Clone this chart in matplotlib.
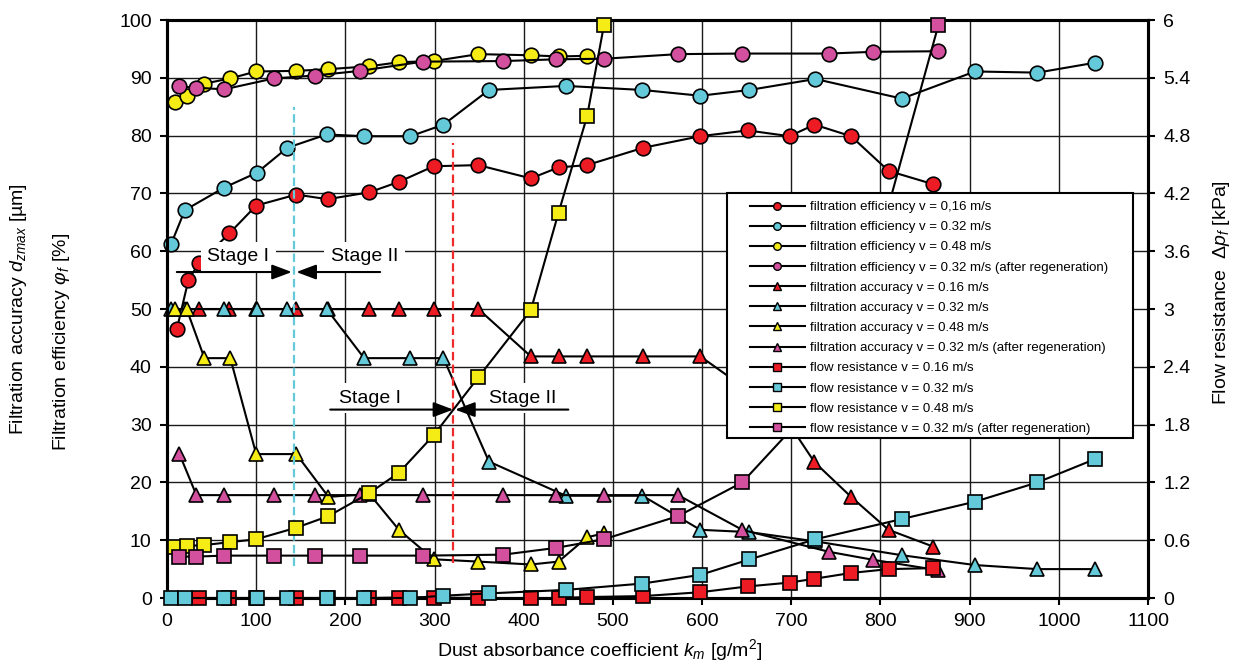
import matplotlib
matplotlib.use("Agg")
import matplotlib.pyplot as plt
from matplotlib.lines import Line2D
from matplotlib.patches import Rectangle

plt.rcParams['font.family'] = ['Liberation Sans', 'DejaVu Sans']
plt.rcParams['mathtext.fontset'] = 'custom'
plt.rcParams['mathtext.rm'] = 'Liberation Sans'
plt.rcParams['mathtext.it'] = 'Liberation Sans:italic'
plt.rcParams['mathtext.bf'] = 'Liberation Sans:bold'

# --- data ---
# filtration efficiency [%]
eff16_x = [11, 24, 36, 70, 100, 145, 180, 227, 260, 299, 349, 408, 439, 471, 534, 598, 651, 698, 726, 767, 809, 859]
eff16_y = [46.5, 55, 58, 63.1, 67.9, 69.8, 69, 70.2, 72, 74.7, 74.9, 72.6, 74.5, 74.9, 77.9, 79.9, 80.9, 79.9, 81.9, 79.9, 73.9, 71.6]

eff32_x = [4.5, 20, 64, 101, 135, 179, 221, 273, 310, 361, 447, 533, 598, 653, 727, 824, 906, 976, 1040]
eff32_y = [61.2, 67.1, 71, 73.6, 77.9, 80.2, 79.9, 79.9, 81.9, 87.9, 88.6, 87.9, 86.9, 87.9, 89.8, 86.4, 91.1, 90.9, 92.6]

eff48_x = [9, 22, 42, 71, 100, 145, 181, 227, 260, 299, 349, 408, 439, 471]
eff48_y = [85.9, 86.8, 89, 89.9, 91.1, 91.2, 91.5, 92, 92.7, 92.9, 94.1, 93.9, 93.7, 93.8]

effreg_x = [14, 33, 64, 120, 166, 216, 287, 377, 436, 490, 573, 645, 742, 792, 865]
effreg_y = [88.5, 88.3, 88, 89.9, 90.4, 91.2, 92.8, 92.9, 93.2, 93.3, 94.1, 94.2, 94.2, 94.5, 94.6]

# filtration accuracy [um]
acc16_x = [36, 70, 100, 145, 180, 227, 260, 299, 349, 408, 439, 471, 534, 598, 651, 698, 726, 767, 809, 859]
acc16_y = [50, 50, 50, 50, 50, 50, 50, 50, 50, 41.8, 41.8, 41.8, 41.8, 41.8, 36, 30, 23.5, 17.5, 11.8, 8.9]

acc32_x = eff32_x
acc32_y = [50, 50, 50, 50, 50, 50, 41.5, 41.5, 41.5, 23.6, 17.7, 17.7, 11.8, 11.4, 9.8, 7.4, 5.7, 5.0, 5.0]

acc48_x = [9, 22, 42, 71, 100, 145, 181, 227, 260, 299, 349, 408, 439, 471, 490]
acc48_y = [50, 50, 41.5, 41.5, 24.9, 24.9, 17.5, 18, 11.8, 6.7, 6.3, 5.8, 6.3, 10.5, 11.2]

accreg_x = effreg_x
accreg_y = [24.9, 17.8, 17.8, 17.8, 17.8, 17.8, 17.8, 17.8, 17.8, 17.8, 17.8, 11.8, 8.0, 6.6, 4.8]

# flow resistance [kPa]
res16_x = acc16_x
res16_y = [0, 0, 0, 0, 0, 0, 0.005, 0.005, 0, 0, 0, 0.01, 0.02, 0.06, 0.12, 0.16, 0.2, 0.26, 0.3, 0.31]

res32_x = eff32_x
res32_y = [0, 0, 0, 0, 0, 0, 0, 0, 0.024, 0.048, 0.084, 0.15, 0.24, 0.40, 0.61, 0.82, 1.0, 1.2, 1.44]

res48_x = acc48_x
res48_y = [0.53, 0.54, 0.55, 0.58, 0.61, 0.73, 0.85, 1.09, 1.3, 1.69, 2.29, 2.99, 4.0, 5.0, 5.95]

resreg_x = effreg_x
resreg_y = [0.43, 0.43, 0.44, 0.44, 0.44, 0.44, 0.44, 0.45, 0.52, 0.61, 0.85, 1.2, 2.17, 3.5, 5.95]

labels = [
    "filtration efficiency v = 0,16 m/s",
    "filtration efficiency v = 0.32 m/s",
    "filtration efficiency v = 0.48 m/s",
    "filtration efficiency v = 0.32 m/s (after regeneration)",
    "filtration accuracy v = 0.16 m/s",
    "filtration accuracy v = 0.32 m/s",
    "filtration accuracy v = 0.48 m/s",
    "filtration accuracy v = 0.32 m/s (after regeneration)",
    "flow resistance v = 0.16 m/s",
    "flow resistance v = 0.32 m/s",
    "flow resistance v = 0.48 m/s",
    "flow resistance v = 0.32 m/s (after regeneration)",
]

right_ticks = [0, 0.6, 1.2, 1.8, 2.4, 3, 3.6, 4.2, 4.8, 5.4, 6]
right_labels = ["0", "0.6", "1.2", "1.8", "2.4", "3", "3.6", "4.2", "4.8", "5.4", "6"]

RED = '#ed1c24'
CYAN = '#64c9d9'
YELLOW = '#f5ec15'
PINK = '#d2509e'

fig = plt.figure(figsize=(12.37, 6.61), dpi=100)
ax = fig.add_axes([0.135, 0.0953, 0.7931, 0.8744])
ax2 = ax.twinx()


def series(a, x, y, marker, color, ms):
    a.plot(x, y, color='black', lw=1.5, marker=marker, ms=ms, mfc=color,
           mec='black', mew=1.2, clip_on=False, zorder=3)


series(ax, eff16_x, eff16_y, 'o', RED, 10.5)
series(ax, eff32_x, eff32_y, 'o', CYAN, 10.5)
series(ax, eff48_x, eff48_y, 'o', YELLOW, 10.5)
series(ax, effreg_x, effreg_y, 'o', PINK, 10.5)
series(ax, acc16_x, acc16_y, '^', RED, 10.5)
series(ax, acc32_x, acc32_y, '^', CYAN, 10.5)
series(ax, acc48_x, acc48_y, '^', YELLOW, 10.5)
series(ax, accreg_x, accreg_y, '^', PINK, 10.5)
series(ax2, res16_x, res16_y, 's', RED, 9.5)
series(ax2, res32_x, res32_y, 's', CYAN, 9.5)
series(ax2, res48_x, res48_y, 's', YELLOW, 9.5)
series(ax2, resreg_x, resreg_y, 's', PINK, 9.5)

# stage boundaries
ax.plot([142.8, 142.8], [5.5, 84.9], color=CYAN, lw=1.6, dashes=(3.8, 1.9), zorder=4)
ax.plot([321, 321], [6.0, 78.8], color='#ee2a2a', lw=1.6, dashes=(3.8, 1.9), zorder=4)

box = dict(boxstyle='square,pad=0.35', fc='white', ec='none')
ax.text(80, 59.0, "Stage I", fontsize=14, ha='center', va='center', bbox=box, zorder=10)
ax.text(222, 59.0, "Stage II", fontsize=14, ha='center', va='center', bbox=box, zorder=10)
ax.text(228, 34.6, "Stage I", fontsize=14, ha='center', va='center', bbox=box, zorder=10)
ax.text(399, 34.6, "Stage II", fontsize=14, ha='center', va='center', bbox=box, zorder=10)

arrow = dict(arrowstyle='-|>,head_length=0.4,head_width=0.15', mutation_scale=30,
             color='black', lw=1.5, shrinkA=0, shrinkB=0)
ax.annotate('', xy=(140, 56.4), xytext=(11, 56.4), arrowprops=arrow, zorder=11)
ax.annotate('', xy=(145, 56.4), xytext=(239, 56.4), arrowprops=arrow, zorder=11)
ax.annotate('', xy=(321, 32.6), xytext=(183, 32.6), arrowprops=arrow, zorder=11)
ax.annotate('', xy=(323, 32.6), xytext=(450, 32.6), arrowprops=arrow, zorder=11)

ax.set_xlim(0, 1100)
ax.set_ylim(0, 100)
ax2.set_ylim(0, 6)
ax.set_xticks(range(0, 1101, 100))
ax.set_yticks(range(0, 101, 10))
ax2.set_yticks(right_ticks)
ax2.set_yticklabels(right_labels)

ax.grid(True, color='#1a1a1a', lw=1.0)
ax.set_axisbelow(True)

for a in (ax, ax2):
    for s in a.spines.values():
        s.set_linewidth(2.2)
    a.tick_params(direction='out', length=5, width=1.5, labelsize=14, pad=6)

# legend with its own frame
ax2.add_patch(Rectangle((0.571, 0.277), 0.414, 0.4237, transform=ax2.transAxes,
                        fc='white', ec='black', lw=1.5, zorder=8, clip_on=False))
specs = [('o', RED), ('o', CYAN), ('o', YELLOW), ('o', PINK),
         ('^', RED), ('^', CYAN), ('^', YELLOW), ('^', PINK),
         ('s', RED), ('s', CYAN), ('s', YELLOW), ('s', PINK)]
handles = [Line2D([], [], color='black', lw=1.5, marker=m, ms=5.5, mfc=c, mec='black', mew=1.0)
           for m, c in specs]
leg = ax2.legend(handles, labels, loc='upper left', bbox_to_anchor=(0.594, 0.687),
                 frameon=False, fontsize=9.5, handlelength=4.2, handletextpad=0.4,
                 labelspacing=0.60, borderpad=0, borderaxespad=0)
leg.set_zorder(9)

fig.text(600 / 1237, 1 - 650 / 661, r"Dust absorbance coefficient $k_m$ [g/m$^2$]",
         fontsize=14, ha='center', va='center')
fig.text(19 / 1237, 1 - 309 / 661, r"Filtration accuracy $d_{zmax}$ [µm]",
         fontsize=14, ha='center', va='center', rotation=90)
fig.text(62 / 1237, 1 - 342 / 661, r"Filtration efficiency $\varphi_f$ [%]",
         fontsize=14, ha='center', va='center', rotation=90)
fig.text(1222 / 1237, 1 - 293 / 661, r"Flow resistance  $\Delta p_f$ [kPa]",
         fontsize=14, ha='center', va='center', rotation=90)

fig.savefig("out.png", dpi=100)
